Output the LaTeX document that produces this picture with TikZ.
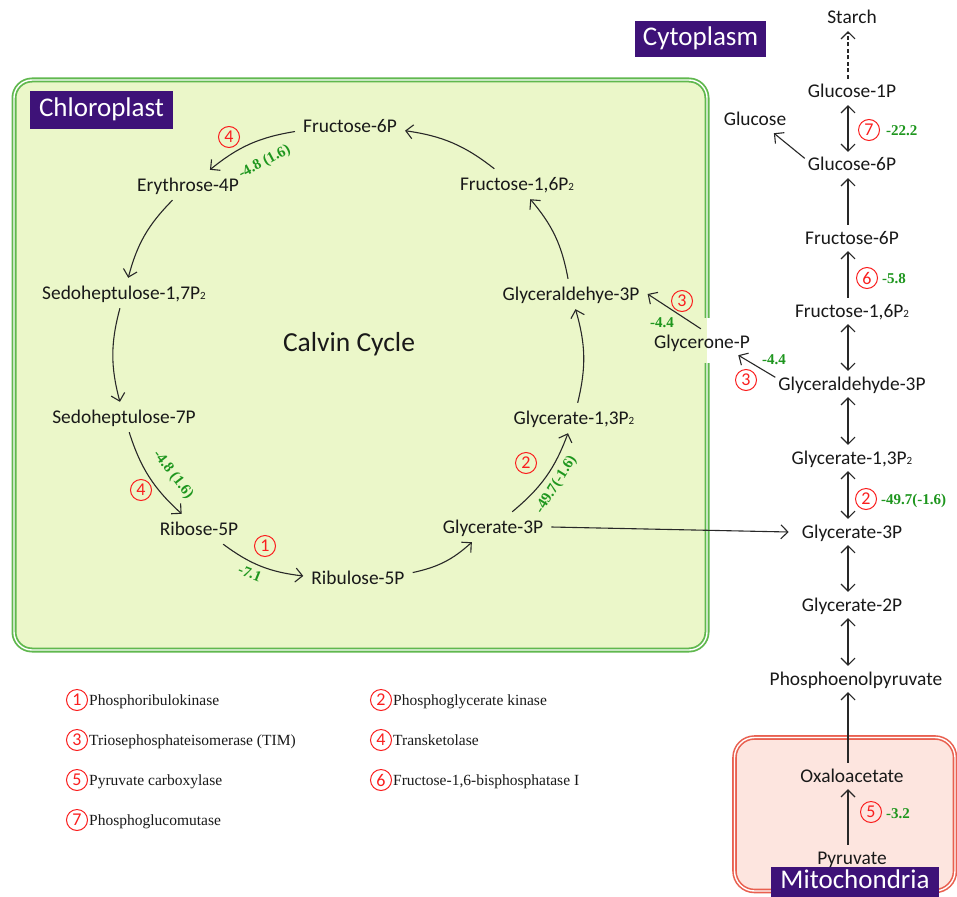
\documentclass[tikz,border=0pt]{standalone}
\usepackage{fontspec}
\setmainfont{Carlito}
\newfontfamily\tnr{Liberation Serif}
\usetikzlibrary{arrows.meta,calc}
\definecolor{cfill}{RGB}{235,247,201}
\definecolor{cgreen}{RGB}{96,184,78}
\definecolor{mfill}{RGB}{253,229,223}
\definecolor{mred}{RGB}{233,96,80}
\definecolor{purp}{RGB}{62,18,120}
\definecolor{dgreen}{RGB}{30,150,30}
\definecolor{enzred}{RGB}{250,30,30}
\definecolor{txtc}{RGB}{25,25,25}
\definecolor{linec}{RGB}{40,40,40}
\newcommand\subtwo{{\fontsize{11pt}{11pt}\selectfont 2}}
\begin{document}
\begin{tikzpicture}[x=1pt,y=-1pt,
  >={Straight Barb[length=7pt,width=14pt]},
  arr/.style={draw=linec, line width=1.1pt, ->},
  cyc/.style={font=\fontsize{19.4}{19.4}\selectfont, text=txtc, text height=13pt, text depth=1pt, inner sep=8pt},
  colnode/.style={font=\fontsize{19.4}{19.4}\selectfont, text=txtc, text height=13pt, text depth=1pt, inner xsep=3pt, inner ysep=6pt},
  enz/.style={circle, draw=enzred, line width=1pt, text=enzred, minimum size=21pt, inner sep=0pt, font=\fontsize{18}{18}\selectfont},
  dg/.style={text=dgreen, font=\tnr\bfseries\fontsize{15}{15}\selectfont, text height=10pt, text depth=0pt, inner sep=0pt},
  leg/.style={text=txtc, font=\tnr\fontsize{15.5}{15.5}\selectfont, text height=10.3pt, text depth=0pt, inner sep=0pt, anchor=west},
  regionlabel/.style={fill=purp, text=white, font=\fontsize{27}{27}\selectfont, text height=18pt, text depth=5pt, inner sep=0pt}
]
\useasboundingbox (0,0) rectangle (957,896);
\fill[white] (0,0) rectangle (957,896);

% compartments
\draw[draw=cgreen, double=white, double distance=1.4pt, line width=1.8pt, fill=cfill, rounded corners=18pt] (14,80) rectangle (707,650);
\fill[cfill] (700,318) rectangle (706.9,363);
\fill[white] (706.9,318) rectangle (716,363);
\draw[draw=mred, double=white, double distance=1.4pt, line width=1.6pt, fill=mfill, rounded corners=20pt] (734.5,737.5) rectangle (955,891);

\node[regionlabel, minimum width=143pt, minimum height=38pt] (chl) at (101.5,110) {Chloroplast};
\node[regionlabel, minimum width=131pt, minimum height=36pt] (cyt) at (700.5,39) {Cytoplasm};
\node[regionlabel, minimum width=168pt, minimum height=30pt] (mit) at (855,882) {Mitochondria};

% Calvin cycle
\node[font=\fontsize{27.5}{27.5}\selectfont, text=txtc, text height=17.7pt, text depth=0pt, inner sep=0pt] (calvin) at (349,343) {Calvin Cycle};
\node[cyc] (f6c) at (350,127) {Fructose-6P};
\node[cyc] (e4) at (188,185) {Erythrose-4P};
\node[cyc] (f16c) at (517,184) {Fructose-1,6P\subtwo};
\node[cyc] (s17) at (124,293) {Sedoheptulose-1,7P\subtwo};
\node[cyc] (ga3c) at (571,294) {Glyceraldehye-3P};
\node[cyc] (s7) at (124,417) {Sedoheptulose-7P};
\node[cyc] (g13c) at (574,418) {Glycerate-1,3P\subtwo};
\node[cyc] (r5) at (199,529) {Ribose-5P};
\node[cyc] (g3c) at (493,527) {Glycerate-3P};
\node[cyc] (ru5) at (358,578) {Ribulose-5P};
\node[colnode] (glyp) at (702,342) {Glycerone-P};

\draw[arr] (f6c) to[bend right=15] (e4);
\draw[arr] (e4) to[bend right=15] (s17);
\draw[arr] (s17) to[bend right=15] (s7);
\draw[arr] (s7) to[bend right=15] (r5);
\draw[arr] (r5) to[bend right=15] (ru5);
\draw[arr] (ru5) to[bend right=15] (g3c);
\draw[arr] (g3c) to[bend right=15] (g13c);
\draw[arr] (g13c) to[bend right=15] (ga3c);
\draw[arr] (ga3c) to[bend right=15] (f16c);
\draw[arr] (f16c) to[bend right=15] (f6c);

% cytoplasm column
\node[colnode] (starch) at (852,18) {Starch};
\node[colnode] (g1p) at (852,92) {Glucose-1P};
\node[colnode] (glu) at (755,120) {Glucose};
\node[colnode] (g6p) at (852,165) {Glucose-6P};
\node[colnode] (f6r) at (852,238) {Fructose-6P};
\node[colnode] (f16r) at (852,311) {Fructose-1,6P\subtwo};
\node[colnode] (ga3r) at (852,384) {Glyceraldehyde-3P};
\node[colnode] (g13r) at (852,458) {Glycerate-1,3P\subtwo};
\node[colnode] (g3r) at (852,532) {Glycerate-3P};
\node[colnode] (g2p) at (852,605) {Glycerate-2P};
\node[colnode] (pep) at (856,679) {Phosphoenolpyruvate};
\node[colnode] (oxa) at (852,776) {Oxaloacetate};
\node[colnode] (pyr) at (852,858) {Pyruvate};

\draw[arr, dash pattern=on 4pt off 2.5pt] ([xshift=-4pt]g1p.north) -- ([xshift=-4pt]starch.south);
\draw[arr, <->] ([xshift=-4pt]g1p.south) -- ([xshift=-4pt]g6p.north);
\draw[arr] (g6p.172) -- (glu.-35);
\draw[arr] ([xshift=-4pt]f6r.north) -- ([xshift=-4pt]g6p.south);
\draw[arr] ([xshift=-4pt]f16r.north) -- ([xshift=-4pt]f6r.south);
\draw[arr, <->] ([xshift=-4pt]f16r.south) -- ([xshift=-4pt]ga3r.north);
\draw[arr, <->] ([xshift=-4pt]ga3r.south) -- ([xshift=-4pt]g13r.north);
\draw[arr, <->] ([xshift=-4pt]g13r.south) -- ([xshift=-4pt]g3r.north);
\draw[arr, <->] ([xshift=-4pt]g3r.south) -- ([xshift=-4pt]g2p.north);
\draw[arr, <->] ([xshift=-4pt]g2p.south) -- ([xshift=-8pt]pep.north);
\draw[arr] ([xshift=-4pt]oxa.north) -- ([xshift=-8pt]pep.south);
\draw[arr] ([xshift=-4pt]pyr.north) -- ([xshift=-4pt]oxa.south);
\draw[arr] (ga3r.175) -- (glyp.-20);
\draw[arr] (glyp.95) -- (ga3c.east);
\draw[arr] (g3c.east) -- ([xshift=-10pt]g3r.west);

% enzymes
\node[enz] (e4a) at (229,137) {4};
\node[enz] (e4b) at (141,490) {4};
\node[enz] (e1) at (265,546) {1};
\node[enz] (e2a) at (526,463) {2};
\node[enz] (e3a) at (682,301) {3};
\node[enz] (e3b) at (746,380) {3};
\node[enz] (e7) at (869,130) {7};
\node[enz] (e6) at (867,278) {6};
\node[enz] (e2b) at (866,499) {2};
\node[enz] (e5) at (871,812) {5};

% free energies
\node[dg, rotate=28] (d1) at (264,161) {-4.8 (1.6)};
\node[dg, rotate=-52] (d2) at (174,474) {-4.8 (1.6)};
\node[dg, rotate=-22] (d3) at (250,573) {-7.1};
\node[dg, rotate=58] (d4) at (555,484) {-49.7(-1.6)};
\node[dg] (d5) at (662,322) {-4.4};
\node[dg] (d6) at (774,359) {-4.4};
\node[dg, anchor=west] (d7) at (886,131) {-22.2};
\node[dg, anchor=west] (d8) at (882,278) {-5.8};
\node[dg, anchor=west] (d9) at (881,499) {-49.7(-1.6)};
\node[dg, anchor=west] (d10) at (886,813) {-3.2};

% legend
\node[enz] (l1) at (77,700) {1};
\node[leg] (l1t) at (89,700) {Phosphoribulokinase};
\node[enz] (l2) at (381,700) {2};
\node[leg] (l2t) at (393,700) {Phosphoglycerate kinase};
\node[enz] (l3) at (77,740) {3};
\node[leg] (l3t) at (89,740) {Triosephosphateisomerase (TIM)};
\node[enz] (l4) at (381,740) {4};
\node[leg] (l4t) at (393,740) {Transketolase};
\node[enz] (l5) at (77,780) {5};
\node[leg] (l5t) at (89,780) {Pyruvate carboxylase};
\node[enz] (l6) at (381,780) {6};
\node[leg] (l6t) at (393,780) {Fructose-1,6-bisphosphatase I};
\node[enz] (l7) at (77,820) {7};
\node[leg] (l7t) at (89,820) {Phosphoglucomutase};
\end{tikzpicture}
\end{document}
